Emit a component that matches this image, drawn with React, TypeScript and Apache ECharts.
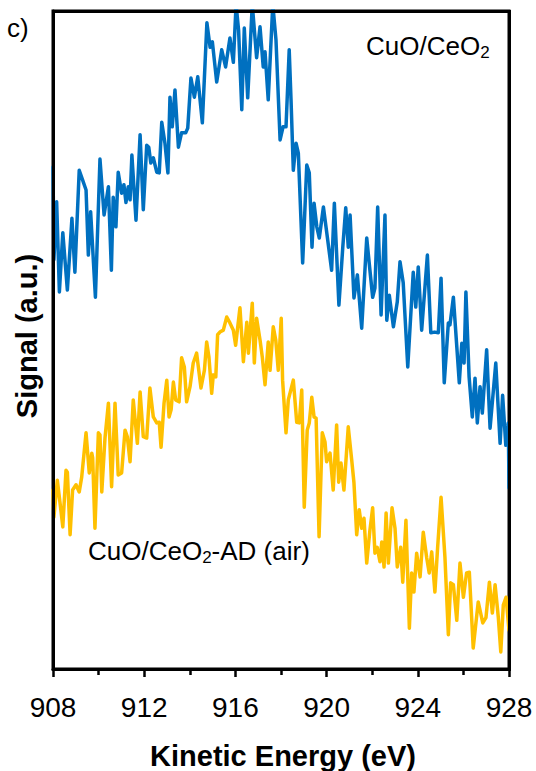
import React, { useEffect, useRef } from "react";
import * as echarts from "echarts";

// Kinetic energy (eV) and signal (a.u.)
const blueEnergy = [
  908.00, 908.04, 908.16, 908.28, 908.43, 908.63, 908.83, 908.96, 909.15, 909.30,
  909.45, 909.55, 909.65, 909.86, 910.06, 910.24, 910.43, 910.56, 910.64, 910.76,
  910.86, 911.01, 911.11, 911.20, 911.30, 911.38, 911.46, 911.64, 911.82, 911.96,
  912.11, 912.20, 912.29, 912.40, 912.55, 912.66, 912.77, 912.91, 913.04, 913.13,
  913.23, 913.35, 913.50, 913.64, 913.82, 913.91, 914.05, 914.20, 914.35, 914.55,
  914.75, 914.89, 914.99, 915.18, 915.40, 915.57, 915.76, 915.91, 916.03, 916.14,
  916.28, 916.39, 916.54, 916.74, 916.93, 917.08, 917.22, 917.30, 917.44, 917.64,
  917.78, 917.96, 918.09, 918.22, 918.36, 918.44, 918.54, 918.66, 918.76, 918.95,
  919.13, 919.24, 919.36, 919.45, 919.57, 919.68, 919.86, 920.03, 920.22, 920.34,
  920.54, 920.71, 920.84, 920.95, 921.03, 921.20, 921.35, 921.54, 921.76, 921.90,
  922.02, 922.12, 922.24, 922.39, 922.56, 922.64, 922.75, 922.93, 923.10, 923.22,
  923.36, 923.56, 923.80, 923.91, 924.02, 924.17, 924.42, 924.57, 924.74, 924.90,
  925.02, 925.16, 925.34, 925.41, 925.56, 925.82, 925.93, 926.03, 926.11, 926.25,
  926.39, 926.51, 926.61, 926.73, 926.83, 927.02, 927.17, 927.42, 927.61, 927.72,
  927.86, 927.97, 928.00,
];
const blueSignal = [
  76.3, 62.2, 71.0, 57.3, 66.3, 57.6, 68.5, 60.3, 75.8, 74.3,
  72.8, 62.9, 69.5, 56.5, 77.5, 69.0, 73.3, 60.6, 71.7, 67.2,
  75.5, 72.3, 73.6, 70.9, 73.3, 71.3, 78.1, 68.2, 81.2, 69.8,
  79.6, 79.3, 76.9, 77.7, 75.5, 75.4, 83.1, 79.9, 75.4, 86.9,
  82.4, 88.0, 79.3, 81.5, 81.5, 82.2, 89.8, 86.9, 90.0, 83.0,
  98.2, 94.5, 95.3, 89.2, 94.1, 91.5, 95.9, 92.2, 101, 97.1,
  85.0, 97.4, 86.8, 101, 92.9, 97.6, 91.5, 93.8, 86.5, 101,
  95.6, 80.4, 82.4, 82.4, 94.1, 86.5, 75.8, 79.9, 78.4, 61.7,
  76.6, 75.4, 64.1, 70.8, 67.2, 65.5, 70.2, 65.7, 60.6, 70.8,
  55.3, 64.1, 70.1, 64.1, 69.0, 56.4, 59.9, 51.8, 65.5, 60.6,
  56.5, 57.9, 70.2, 53.8, 69.0, 53.0, 56.8, 52.0, 55.8, 61.9,
  58.7, 45.9, 60.3, 55.0, 61.1, 51.5, 62.9, 51.1, 51.2, 51.1,
  59.4, 43.5, 52.6, 52.3, 56.5, 43.5, 49.5, 46.5, 57.3, 44.4,
  38.3, 44.2, 37.4, 42.9, 38.9, 48.5, 36.6, 46.5, 34.3, 41.6,
  34.0, 37.4, 27.5,
];

const yellowEnergy = [
  908.00, 908.04, 908.19, 908.31, 908.43, 908.57, 908.63, 908.75, 908.86, 909.01,
  909.15, 909.26, 909.45, 909.59, 909.70, 909.74, 909.84, 909.99, 910.06, 910.14,
  910.28, 910.43, 910.57, 910.72, 910.86, 911.01, 911.16, 911.26, 911.38, 911.52,
  911.70, 911.82, 911.96, 912.11, 912.25, 912.40, 912.55, 912.66, 912.74, 912.87,
  912.99, 913.09, 913.18, 913.28, 913.38, 913.53, 913.64, 913.76, 913.86, 914.01,
  914.15, 914.30, 914.49, 914.64, 914.74, 914.84, 914.96, 915.03, 915.14, 915.22,
  915.32, 915.47, 915.62, 915.76, 915.91, 916.01, 916.20, 916.35, 916.50, 916.57,
  916.74, 916.83, 916.93, 917.08, 917.18, 917.30, 917.44, 917.52, 917.66, 917.77,
  917.88, 918.01, 918.07, 918.22, 918.32, 918.54, 918.69, 918.80, 918.91, 919.02,
  919.15, 919.24, 919.35, 919.45, 919.54, 919.67, 919.81, 919.93, 920.00, 920.15,
  920.29, 920.44, 920.53, 920.63, 920.76, 920.95, 921.10, 921.20, 921.32, 921.43,
  921.54, 921.64, 921.76, 921.90, 922.02, 922.12, 922.22, 922.34, 922.42, 922.52,
  922.61, 922.71, 922.87, 923.00, 923.10, 923.25, 923.34, 923.48, 923.63, 923.73,
  923.83, 923.95, 924.10, 924.24, 924.39, 924.50, 924.61, 924.75, 924.87, 925.02,
  925.19, 925.34, 925.44, 925.56, 925.71, 925.85, 926.00, 926.14, 926.26, 926.43,
  926.65, 926.85, 926.99, 927.14, 927.27, 927.39, 927.53, 927.64, 927.75, 927.87,
  928.00,
];
const yellowSignal = [
  27.2, 23.1, 28.7, 25.2, 21.6, 30.2, 29.9, 20.4, 27.2, 28.0,
  26.9, 29.2, 35.9, 29.8, 32.8, 32.1, 21.4, 35.9, 35.6, 26.9,
  35.1, 40.4, 27.7, 40.4, 29.5, 29.8, 36.3, 35.3, 31.5, 40.9,
  34.3, 42.1, 35.3, 35.1, 42.7, 38.3, 37.4, 37.5, 33.7, 40.4,
  43.9, 38.3, 39.4, 43.6, 40.9, 40.6, 47.3, 45.9, 40.6, 42.9,
  46.5, 48.0, 42.7, 45.4, 49.7, 47.4, 41.9, 44.7, 44.4, 50.8,
  51.2, 51.5, 53.5, 52.6, 51.5, 49.2, 54.9, 46.7, 52.7, 48.0,
  55.6, 46.5, 53.3, 50.0, 47.4, 43.2, 49.7, 45.4, 52.0, 50.0,
  45.4, 53.3, 43.9, 35.9, 40.9, 43.9, 37.5, 37.4, 42.4, 24.6,
  36.3, 37.4, 41.3, 38.3, 38.1, 20.1, 35.9, 34.5, 31.5, 32.8,
  27.2, 37.1, 28.4, 31.3, 27.2, 36.8, 31.8, 28.3, 20.4, 24.2,
  21.4, 22.9, 16.1, 21.1, 24.5, 17.6, 18.5, 16.3, 19.3, 15.5,
  23.7, 16.1, 24.5, 21.4, 15.5, 18.5, 13.2, 22.6, 6.2, 14.6,
  11.7, 17.6, 14.0, 20.8, 16.9, 14.6, 17.8, 11.7, 18.5, 26.1,
  17.0, 5.2, 13.1, 12.8, 7.4, 16.1, 10.9, 14.6, 14.7, 3.2,
  10.2, 7.0, 7.8, 13.2, 8.5, 12.8, 7.9, 2.6, 9.7, 10.9,
  5.9,
];

const xMin = 908;
const xMax = 928;
const xInterval = 4;
const yMin = 0;
const yMax = 100;

const FONT = "Liberation Sans, Arial, sans-serif";

const GRID = { left: 53, right: 27, top: 11, bottom: 102 };
const W = 536;
const H = 771;
const FRAME = 3;

export default function App() {
  const ref = useRef<HTMLDivElement>(null);

  useEffect(() => {
    if (!ref.current) return;
    const chart = echarts.init(ref.current, null, { renderer: "svg" });
    const blueData = blueEnergy.map((x, i) => [x, blueSignal[i]]);
    const yellowData = yellowEnergy.map((x, i) => [x, yellowSignal[i]]);
    const sub = { fontSize: 17, fontFamily: FONT, fill: "#000", lineHeight: 14, verticalAlign: "bottom" };
    const main = { fontSize: 26, fontFamily: FONT, fill: "#000", lineHeight: 30 };
    chart.setOption({
      animation: false,
      backgroundColor: "#fff",
      grid: {
        ...GRID,
        show: true,
        borderColor: "#000",
        borderWidth: FRAME,
      },
      xAxis: {
        type: "value",
        min: xMin,
        max: xMax,
        interval: xInterval,
        axisLine: { show: true, lineStyle: { color: "#000", width: FRAME } },
        axisTick: { show: true, length: 8, lineStyle: { color: "#000", width: 2.5 } },
        minorTick: { show: true, splitNumber: 2, length: 6, lineStyle: { color: "#000", width: 2.5 } },
        splitLine: { show: false },
        minorSplitLine: { show: false },
        axisLabel: { fontSize: 28, color: "#000", margin: 24, fontFamily: FONT },
      },
      yAxis: {
        type: "value",
        min: yMin,
        max: yMax,
        axisLine: { show: true, lineStyle: { color: "#000", width: FRAME } },
        axisTick: { show: false },
        axisLabel: { show: false },
        splitLine: { show: false },
      },
      series: [
        {
          name: "CuO/CeO2-AD (air)",
          type: "line",
          data: yellowData,
          showSymbol: false,
          symbol: "none",
          lineStyle: { color: "#FFC000", width: 3.5, join: "round", cap: "round" },
        },
        {
          name: "CuO/CeO2",
          type: "line",
          data: blueData,
          showSymbol: false,
          symbol: "none",
          lineStyle: { color: "#0070C0", width: 3.5, join: "round", cap: "round" },
        },
      ],
      graphic: [
        {
          type: "text",
          x: 7,
          y: 28,
          style: { text: "c)", fontSize: 26, fontFamily: FONT, fill: "#000", verticalAlign: "middle" },
        },
        {
          type: "text",
          x: 366,
          y: 46,
          style: {
            text: "{a|CuO/CeO}{b|2}",
            verticalAlign: "middle",
            rich: { a: main, b: sub },
          },
        },
        {
          type: "text",
          x: 88,
          y: 551,
          style: {
            text: "{a|CuO/CeO}{b|2}{a|-AD (air)}",
            verticalAlign: "middle",
            rich: { a: main, b: sub },
          },
        },
        {
          type: "text",
          x: 283,
          y: 756,
          style: {
            text: "Kinetic Energy (eV)",
            fontSize: 29,
            fontWeight: "bold",
            fontFamily: FONT,
            fill: "#000",
            align: "center",
            verticalAlign: "middle",
          },
        },
        {
          type: "text",
          x: 27,
          y: 336,
          rotation: Math.PI / 2,
          style: {
            text: "Signal (a.u.)",
            fontSize: 29,
            fontWeight: "bold",
            fontFamily: FONT,
            fill: "#000",
            align: "center",
            verticalAlign: "middle",
          },
        },
      ],
    });
    return () => chart.dispose();
  }, []);

  return (
    <div style={{ position: "absolute", left: 0, top: 0, width: W, height: H }}>
      <div ref={ref} style={{ position: "absolute", left: 0, top: 0, width: W, height: H }} />
      <div
        style={{
          position: "absolute",
          left: GRID.left - FRAME / 2,
          top: GRID.top - FRAME / 2,
          width: W - GRID.left - GRID.right + FRAME,
          height: H - GRID.top - GRID.bottom + FRAME,
          border: `${FRAME}px solid #000`,
          boxSizing: "border-box",
          pointerEvents: "none",
        }}
      />
    </div>
  );
}
